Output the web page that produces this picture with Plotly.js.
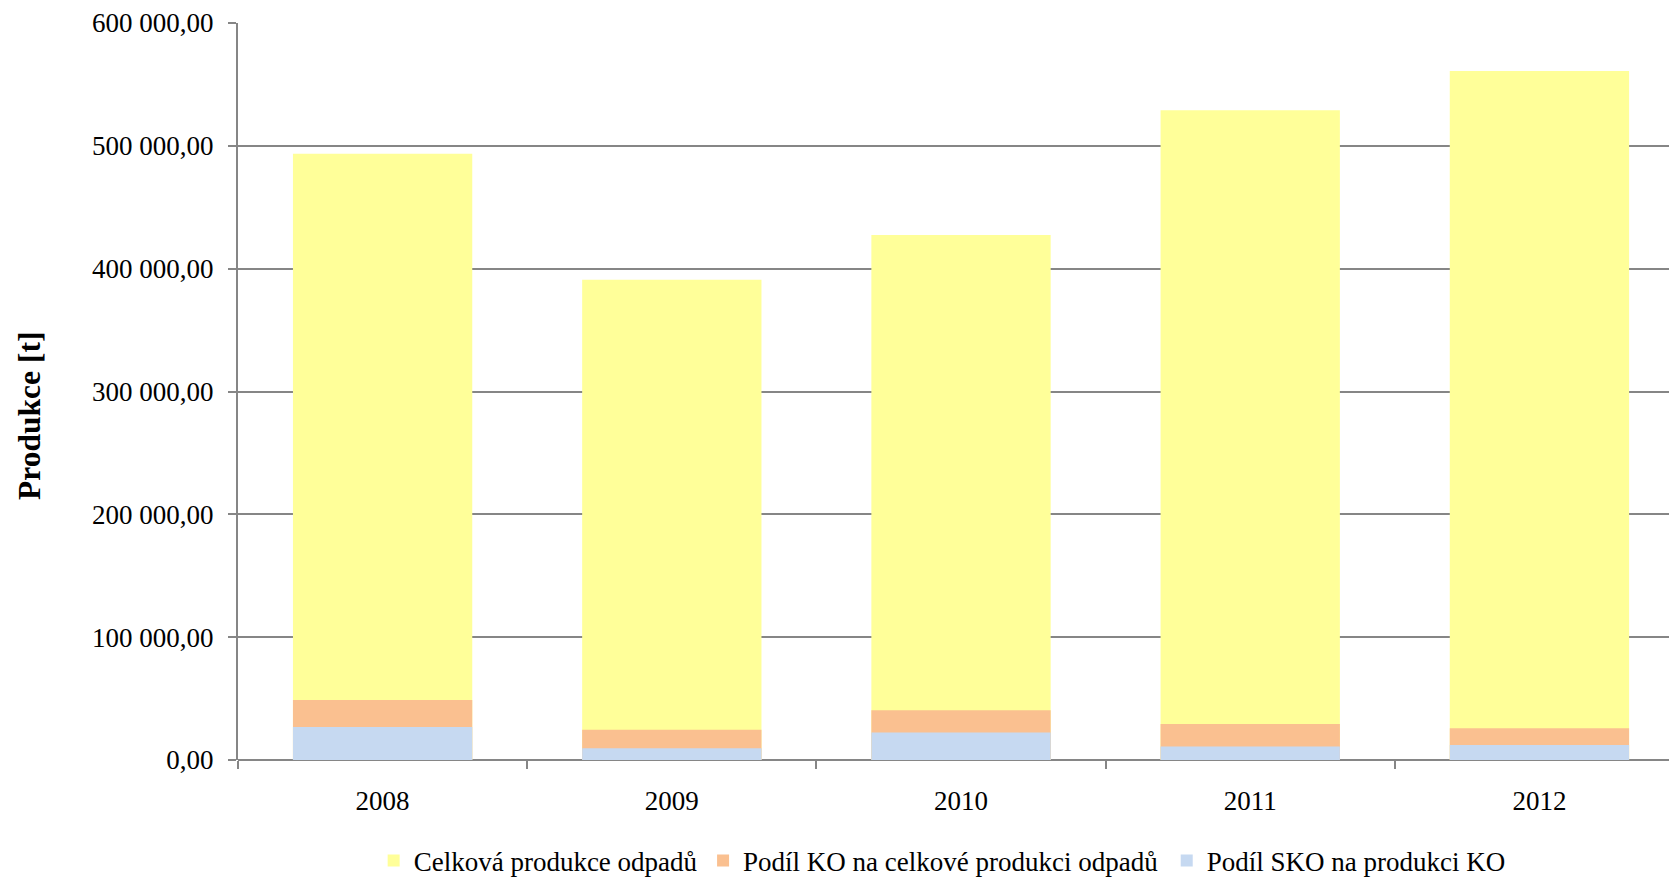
<!DOCTYPE html>
<html>
<head>
<meta charset="utf-8">
<script src="https://cdn.plot.ly/plotly-3.0.1.min.js"></script>
<style>
html,body{margin:0;padding:0;overflow:hidden;background:#fff;}
#chart{width:1669px;height:879px;}
</style>
</head>
<body>
<div id="chart"></div>
<script>
const years = ['2008', '2009', '2010', '2011', '2012'];
const seriesNames = ['Celková produkce odpadů', 'Podíl KO na celkové produkci odpadů', 'Podíl SKO na produkci KO'];
const celkova = [493500, 391000, 427500, 529000, 561000];
const podilKO = [48900, 24700, 40500, 29400, 25900];
const podilSKO = [26900, 9500, 22300, 11000, 12200];
const colors = ['#FFFF99', '#FAC090', '#C6D9F1'];
const yTicks = [0, 100000, 200000, 300000, 400000, 500000, 600000];
const yTitle = 'Produkce [t]';

const serif = 'Liberation Serif';
const values = [celkova, podilKO, podilSKO];
const legendIds = ['legend', 'legend2', 'legend3'];
const legendX = [0.0948, 0.325, 0.649];
const traces = values.map((v, i) => ({
  type: 'bar',
  x: years,
  y: v,
  name: seriesNames[i],
  legend: legendIds[i],
  width: 0.62,
  marker: {color: colors[i], line: {width: 0}},
  hoverinfo: 'x+y+name'
}));

const layout = {
  width: 1669,
  height: 879,
  margin: {l: 238, r: 0, t: 23, b: 119, pad: 0},
  paper_bgcolor: '#ffffff',
  plot_bgcolor: '#ffffff',
  barmode: 'overlay',
  separators: ', ',
  font: {family: serif, size: 27, color: '#000000'},
  xaxis: {
    type: 'category',
    range: [-0.5, 4.448],
    showgrid: false,
    showline: false,
    zeroline: false,
    ticks: 'outside',
    tickson: 'boundaries',
    ticklen: 8,
    tickwidth: 2,
    tickcolor: '#868686',
    tickfont: {family: serif, size: 27, color: '#000'},
    ticklabelstandoff: 22,
    automargin: false
  },
  yaxis: {
    range: [0, 600000],
    tickvals: yTicks,
    tickformat: ',.2f',
    showgrid: true,
    gridcolor: '#868686',
    gridwidth: 2,
    showline: true,
    linecolor: '#868686',
    linewidth: 2,
    zeroline: true,
    zerolinecolor: '#868686',
    zerolinewidth: 2,
    ticks: 'outside',
    ticklen: 8,
    tickwidth: 2,
    tickcolor: '#868686',
    tickfont: {family: serif, size: 27, color: '#000'},
    ticklabelstandoff: 9,
    automargin: false
  },
  annotations: [{
    text: '<b>' + yTitle + '</b>',
    textangle: -90,
    xref: 'paper', yref: 'paper',
    x: -0.1454, y: 0.4668,
    xanchor: 'center', yanchor: 'middle',
    showarrow: false,
    font: {family: serif, size: 31.5, color: '#000'}
  }],
  showlegend: true
};

legendIds.forEach((id, i) => {
  layout[id] = {
    orientation: 'h',
    x: legendX[i],
    xanchor: 'left',
    xref: 'paper',
    yref: 'container',
    y: 0.0205,
    yanchor: 'middle',
    font: {family: serif, size: 27, color: '#000'},
    itemwidth: 30,
    bgcolor: 'rgba(0,0,0,0)'
  };
});

Plotly.newPlot('chart', traces, layout, {displayModeBar: false, staticPlot: true});
</script>
</body>
</html>
